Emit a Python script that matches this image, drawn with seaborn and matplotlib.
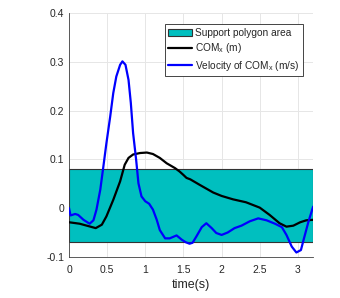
import numpy as np
import pandas as pd
import matplotlib
matplotlib.use("Agg")
import matplotlib.pyplot as plt
import seaborn as sns
from matplotlib.patches import Rectangle

# Data
com_t = [0.0, 0.14, 0.28, 0.35, 0.43, 0.49, 0.58, 0.67, 0.73, 0.78, 0.84, 0.93, 1.02, 1.1,
         1.19, 1.28, 1.39, 1.45, 1.5, 1.54, 1.59, 1.71, 1.89, 2.0, 2.15, 2.32, 2.5, 2.63, 2.76,
         2.85, 2.94, 3.03, 3.11, 3.2]
com_x = [-0.029, -0.032, -0.038, -0.041, -0.034, -0.017, 0.017, 0.055, 0.089, 0.103, 0.110,
         0.113, 0.114, 0.111, 0.103, 0.092, 0.082, 0.075, 0.068, 0.062, 0.059, 0.048, 0.032,
         0.025, 0.018, 0.012, 0.001, -0.014, -0.031, -0.038, -0.036, -0.029, -0.025, -0.024]

vel_t = [0.0, 0.02, 0.08, 0.12, 0.19, 0.27, 0.32, 0.36, 0.41, 0.45, 0.49, 0.54, 0.58, 0.62,
         0.67, 0.70, 0.74, 0.78, 0.81, 0.84, 0.88, 0.91, 0.95, 1.0, 1.05, 1.1, 1.15, 1.19, 1.26,
         1.32, 1.41, 1.48, 1.53, 1.58, 1.62, 1.67, 1.74, 1.8, 1.87, 1.93, 2.0, 2.08, 2.17, 2.26,
         2.37, 2.48, 2.59, 2.7, 2.79, 2.85, 2.92, 2.98, 3.04, 3.08, 3.14, 3.2]
vel_x = [0.0, -0.015, -0.012, -0.014, -0.024, -0.032, -0.025, -0.003, 0.038, 0.085, 0.133,
         0.188, 0.236, 0.270, 0.294, 0.301, 0.294, 0.263, 0.216, 0.154, 0.099, 0.051, 0.024,
         0.014, 0.009, -0.003, -0.024, -0.045, -0.062, -0.062, -0.056, -0.065, -0.070, -0.073,
         -0.071, -0.058, -0.039, -0.031, -0.041, -0.051, -0.055, -0.050, -0.041, -0.036, -0.027,
         -0.021, -0.025, -0.032, -0.039, -0.055, -0.079, -0.091, -0.086, -0.062, -0.027, 0.003]

support_t = [0.0, 3.2]
support_lo = -0.07
support_hi = 0.08

xticks = [0, 0.5, 1, 1.5, 2, 2.5, 3]
xticklabels = ["0", "0.5", "1", "1.5", "2", "2.5", "3"]
yticks = [-0.1, 0, 0.1, 0.2, 0.3, 0.4]
yticklabels = ["-0.1", "0", "0.1", "0.2", "0.3", "0.4"]

sns.set_style("white")
plt.rcParams['font.family'] = ['Liberation Sans', 'DejaVu Sans']
plt.rcParams['mathtext.fontset'] = 'custom'
plt.rcParams['mathtext.rm'] = 'Liberation Sans'
plt.rcParams['mathtext.it'] = 'Liberation Sans'

fig = plt.figure(figsize=(3.4, 2.98), dpi=100)
ax = fig.add_axes([0.203, 0.138, 0.718, 0.818])

rect = Rectangle((support_t[0], support_lo), support_t[1] - support_t[0], support_hi - support_lo,
                 facecolor="#00BFBF", edgecolor="#333333", linewidth=0.8, zorder=1,
                 label="Support polygon area")
ax.add_patch(rect)

df_com = pd.DataFrame({"t": com_t, "v": com_x})
df_vel = pd.DataFrame({"t": vel_t, "v": vel_x})
sns.lineplot(data=df_com, x="t", y="v", ax=ax, color="black", linewidth=1.6,
             label=r"COM$_\mathregular{x}$ (m)", zorder=3)
sns.lineplot(data=df_vel, x="t", y="v", ax=ax, color="#0000FF", linewidth=1.6,
             label=r"Velocity of COM$_\mathregular{x}$ (m/s)", zorder=4)
for ln in ax.get_lines():
    ln.set_solid_joinstyle("round")
    ln.set_solid_capstyle("round")

ax.set_xlim(0, 3.2)
ax.set_ylim(-0.1, 0.4)
ax.set_xticks(xticks)
ax.set_xticklabels(xticklabels)
ax.set_yticks(yticks)
ax.set_yticklabels(yticklabels)
ax.grid(True, color="#E6E6E6", linewidth=0.7, zorder=0)
ax.set_axisbelow(True)
for s in ["top", "right"]:
    ax.spines[s].set_visible(False)
for s in ["left", "bottom"]:
    ax.spines[s].set_color("#404040")
    ax.spines[s].set_linewidth(0.6)
ax.tick_params(direction="in", length=2.5, width=0.6, labelsize=7.5, colors="#262626")
ax.tick_params(axis="x", pad=6)
ax.tick_params(axis="y", pad=3.5)
ax.set_xlabel("time(s)", fontsize=9, color="#262626", labelpad=3)
ax.set_ylabel("")

leg = ax.legend(loc="upper right", bbox_to_anchor=(0.96, 0.955), fontsize=7.3, frameon=True,
                fancybox=False, edgecolor="#262626", framealpha=1, handlelength=2.4,
                handletextpad=0.3, borderpad=0.35, labelspacing=0.35, borderaxespad=0)
leg.get_frame().set_linewidth(0.6)

fig.savefig("out.png", dpi=100)
